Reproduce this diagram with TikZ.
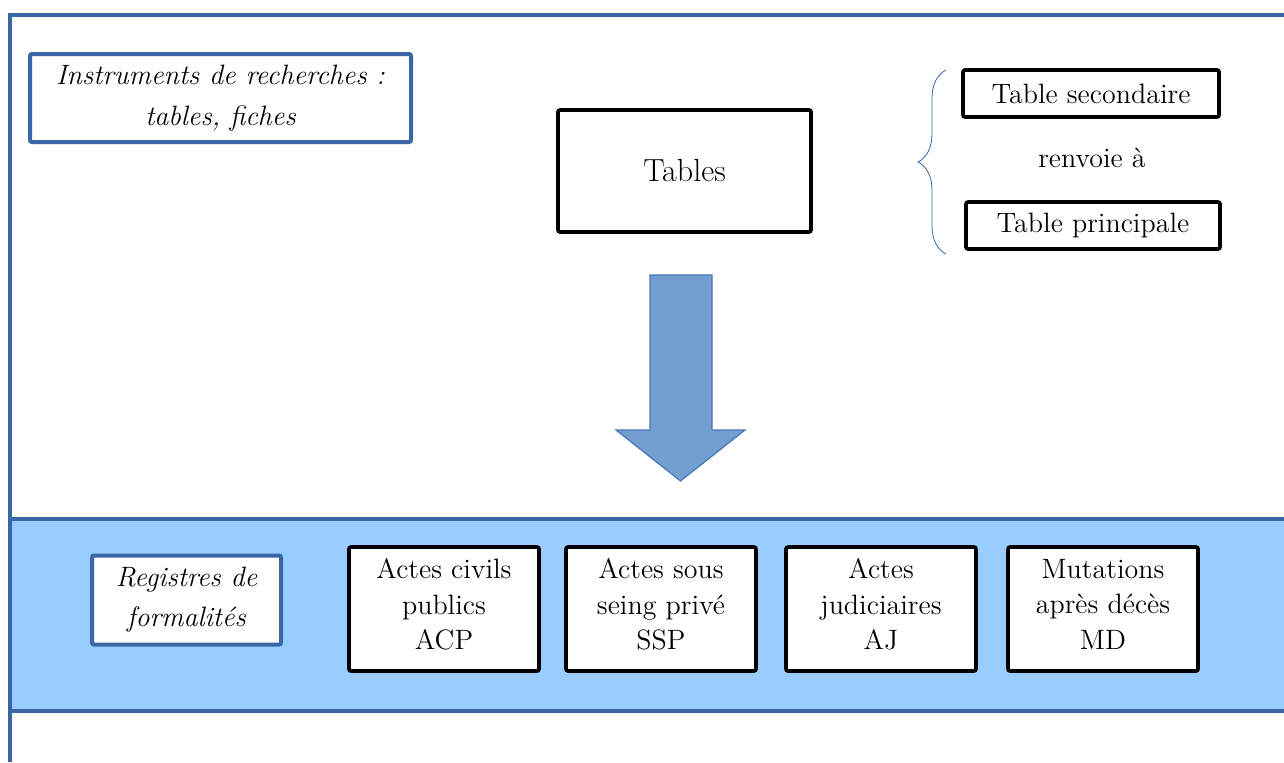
\documentclass[tikz,border=0pt]{standalone}
\usepackage[dvipsnames]{xcolor}
\usepackage{tikz}
\usetikzlibrary{decorations.pathreplacing}

\definecolor{frameblue}{RGB}{56,102,166}
\definecolor{bandblue}{RGB}{153,204,255}
\definecolor{arrowblue}{RGB}{114,159,207}
\definecolor{arrowedge}{RGB}{72,118,182}

\begin{document}
\begin{tikzpicture}
		[x=0.5pt, y=-0.5pt,
		frame line/.style={line width=2pt, color=frameblue},
		blue box/.style={draw=frameblue, line width=2pt, fill=white, rounded corners=1pt, align=center, inner sep=0pt, font=\fontsize{14}{#1}\selectfont\itshape},
		blue box/.default=20.5pt,
		black box/.style={draw=black, line width=1.8pt, fill=white, rounded corners=1pt, align=center, inner sep=0pt, font=\fontsize{14}{17.75}\selectfont},
		acte/.style={black box, minimum width=95pt, minimum height=62pt, text depth=5pt}]
		
		\def \bandtop {519};
		\def \bandbot {711};
		
		\useasboundingbox (0,0) rectangle (1284,762);
		
		% band of the registers
		\fill[bandblue] (10,\bandtop) rectangle (1284,\bandbot);
		\draw[frame line] (10,\bandtop) -- (1284,\bandtop);
		\draw[frame line] (10,\bandbot) -- (1284,\bandbot);
		% outer frame
		\draw[frame line] (10,762) -- (10,15) -- (1284,15);
		
		\node[blue box, minimum width=190.5pt, minimum height=44pt] (instr) at (220.5,98)
			{Instruments de recherches :\\tables, fiches};
		\node[black box, minimum width=126.5pt, minimum height=61pt, font=\fontsize{16}{19}\selectfont] (tables) at (684.5,171) {Tables};
		
		\node[black box, minimum width=128pt, minimum height=23.5pt] (tsec) at (1091,93.5) {Table secondaire};
		\node[font=\fontsize{14}{17}\selectfont] (renv) at (1092,158) {renvoie à};
		\node[black box, minimum width=127pt, minimum height=23.5pt] (tprin) at (1093,225.5) {Table principale};
		\draw[frameblue, thin, decorate, decoration={brace, amplitude=14pt}]
			(946,254) -- (946,70);
		
		% big arrow
		\filldraw[fill=arrowblue, draw=arrowedge, line width=0.6pt]
			(650,275) -- (712,275) -- (712,430) -- (745,430) -- (680.5,481)
			-- (616,430) -- (650,430) -- cycle;
		
		\node[blue box=20pt, minimum width=94.5pt, minimum height=44.5pt] (regis) at (186.5,600)
			{Registres de\\formalités};
		\foreach \x/\n/\t in {444/acp/{Actes civils\\publics\\ACP},
			661/ssp/{Actes sous\\seing privé\\SSP},
			881/aj/{Actes\\judiciaires\\AJ},
			1103/md/{Mutations\\après décès\\MD}}
			\node[acte] (\n) at (\x,609) {\t};
		
	\end{tikzpicture}
\end{document}
